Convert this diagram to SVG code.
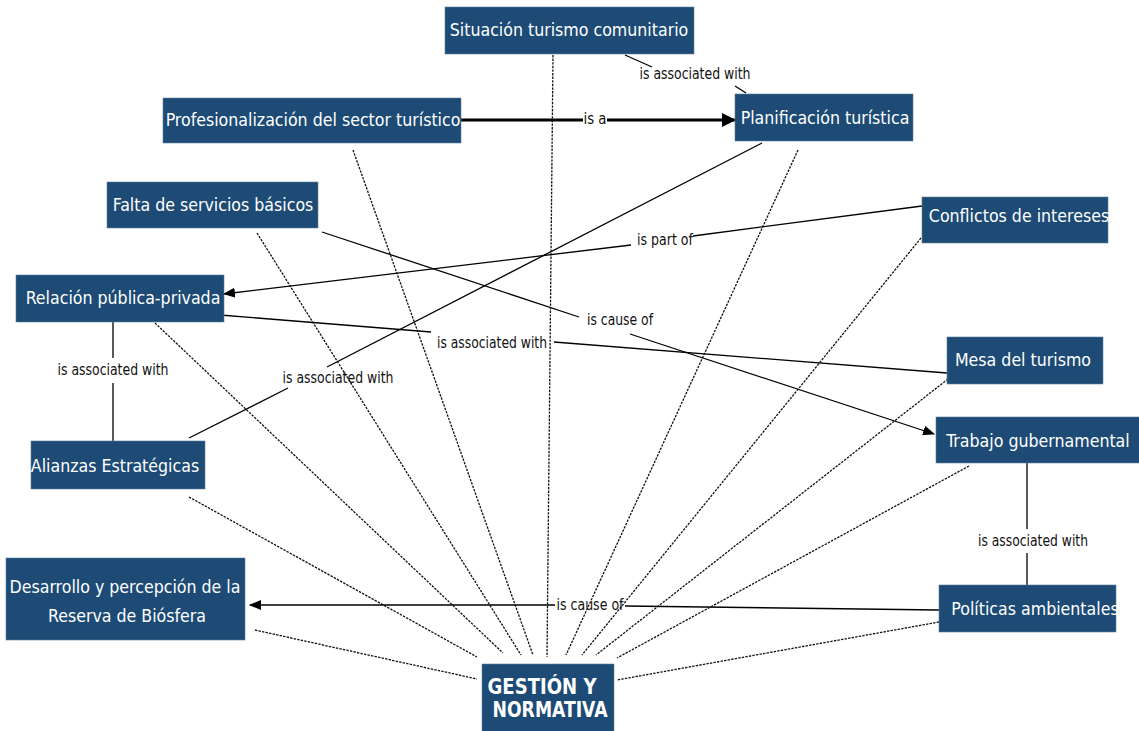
<svg xmlns="http://www.w3.org/2000/svg" width="1139" height="731" viewBox="0 0 1139 731">
<defs>
<style>
.box{fill:#1d4b75;stroke:#5f7f9c;stroke-width:0.6}
.nt{font-family:"DejaVu Sans Condensed","DejaVu Sans",sans-serif;font-size:17.6px;fill:#fff;text-anchor:middle}
.bt{font-family:"DejaVu Sans Condensed","DejaVu Sans",sans-serif;font-size:22px;font-weight:bold;fill:#fff;text-anchor:middle}
.lb{font-family:"DejaVu Sans Condensed","DejaVu Sans",sans-serif;font-size:15px;fill:#111;text-anchor:middle}
.ln{stroke:#000;stroke-width:1.3;fill:none}
.dt{stroke:#111;stroke-width:1.3;stroke-dasharray:2.4 1.2;fill:none}
</style>
<marker id="ah" markerUnits="userSpaceOnUse" markerWidth="12" markerHeight="10" refX="11" refY="5" orient="auto"><path d="M0,0 L12,5 L0,10 Z" fill="#000"/></marker>
<marker id="ahb" markerUnits="userSpaceOnUse" markerWidth="14" markerHeight="14" refX="13" refY="7" orient="auto"><path d="M0,0 L14,7 L0,14 Z" fill="#000"/></marker>
</defs>
<rect width="1139" height="731" fill="#fff"/>
<g id="connectors">
<line class="ln" x1="625" y1="55" x2="652" y2="67"/>
<line class="ln" x1="735" y1="86" x2="746" y2="93"/>
<text class="lb" x="695" y="79" textLength="111" lengthAdjust="spacingAndGlyphs">is associated with</text>
<line x1="461" y1="120" x2="583" y2="120" stroke="#000" stroke-width="3"/>
<line x1="607" y1="120" x2="735" y2="120" stroke="#000" stroke-width="3" marker-end="url(#ahb)"/>
<text class="lb" x="595" y="124" textLength="23" lengthAdjust="spacingAndGlyphs">is a</text>
<line class="ln" x1="762" y1="143" x2="327" y2="367"/>
<line class="ln" x1="288" y1="388" x2="189" y2="438"/>
<text class="lb" x="338" y="383" textLength="111" lengthAdjust="spacingAndGlyphs">is associated with</text>
<line class="ln" x1="922" y1="206" x2="693" y2="236"/>
<line class="ln" x1="631" y1="245" x2="224" y2="294" marker-end="url(#ah)"/>
<text class="lb" x="665" y="245" textLength="56" lengthAdjust="spacingAndGlyphs">is part of</text>
<line class="ln" x1="322" y1="232" x2="579" y2="317"/>
<line class="ln" x1="630" y1="334" x2="934" y2="434" marker-end="url(#ah)"/>
<text class="lb" x="620" y="325" textLength="66" lengthAdjust="spacingAndGlyphs">is cause of</text>
<line class="ln" x1="220" y1="315" x2="431" y2="332"/>
<line class="ln" x1="554" y1="342" x2="947" y2="373"/>
<text class="lb" x="492" y="348" textLength="110" lengthAdjust="spacingAndGlyphs">is associated with</text>
<line class="ln" x1="113" y1="322" x2="113" y2="358"/>
<line class="ln" x1="113" y1="383" x2="113" y2="441"/>
<text class="lb" x="113" y="375" textLength="111" lengthAdjust="spacingAndGlyphs">is associated with</text>
<line class="ln" x1="1027" y1="463" x2="1027" y2="529"/>
<line class="ln" x1="1027" y1="553" x2="1027" y2="585"/>
<text class="lb" x="1033" y="546" textLength="110" lengthAdjust="spacingAndGlyphs">is associated with</text>
<line class="ln" x1="939" y1="610" x2="625" y2="606"/>
<line class="ln" x1="555" y1="605" x2="250" y2="605" marker-end="url(#ah)"/>
<text class="lb" x="590" y="610" textLength="67" lengthAdjust="spacingAndGlyphs">is cause of</text>
<line class="dt" x1="553" y1="55" x2="547" y2="657"/>
<line class="dt" x1="353" y1="150" x2="533" y2="655"/>
<line class="dt" x1="257" y1="233" x2="521" y2="655"/>
<line class="dt" x1="155" y1="323" x2="503" y2="653"/>
<line class="dt" x1="189" y1="497" x2="477" y2="657"/>
<line class="dt" x1="255" y1="630" x2="477" y2="679"/>
<line class="dt" x1="798" y1="150" x2="566" y2="655"/>
<line class="dt" x1="921" y1="238" x2="582" y2="655"/>
<line class="dt" x1="948" y1="379" x2="596" y2="655"/>
<line class="dt" x1="969" y1="466" x2="617" y2="658"/>
<line class="dt" x1="939" y1="622" x2="617" y2="680"/>
</g>
<g id="n-situacion"><rect class="box" x="445" y="7" width="249" height="47"/><text class="nt" x="569" y="36">Situación turismo comunitario</text></g>
<g id="n-profesionalizacion"><rect class="box" x="163" y="98" width="298" height="45"/><text class="nt" x="313" y="126">Profesionalización del sector turístico</text></g>
<g id="n-planificacion"><rect class="box" x="735" y="94" width="178" height="47"/><text class="nt" x="825" y="124">Planificación turística</text></g>
<g id="n-falta"><rect class="box" x="107" y="182" width="211" height="46"/><text class="nt" x="213" y="211">Falta de servicios básicos</text></g>
<g id="n-conflictos"><rect class="box" x="922" y="197" width="186" height="46"/><text class="nt" x="1019" y="222">Conflictos de intereses</text></g>
<g id="n-relacion"><rect class="box" x="16" y="275" width="208" height="47"/><text class="nt" x="123" y="304">Relación pública-privada</text></g>
<g id="n-mesa"><rect class="box" x="947" y="337" width="156" height="47"/><text class="nt" x="1023" y="366">Mesa del turismo</text></g>
<g id="n-alianzas"><rect class="box" x="31" y="441" width="174" height="48"/><text class="nt" x="115" y="472">Alianzas Estratégicas</text></g>
<g id="n-trabajo"><rect class="box" x="936" y="417" width="205" height="46"/><text class="nt" x="1038" y="447">Trabajo gubernamental</text></g>
<g id="n-desarrollo"><rect class="box" x="6" y="558" width="239" height="82"/><text class="nt" x="125" y="593">Desarrollo y percepción de la</text><text class="nt" x="127" y="622">Reserva de Biósfera</text></g>
<g id="n-politicas"><rect class="box" x="939" y="585" width="177" height="47"/><text class="nt" x="1035" y="615">Políticas ambientales</text></g>
<g id="n-gestion"><rect class="box" x="482" y="664" width="132" height="70"/><text class="bt" x="542" y="694" textLength="109" lengthAdjust="spacingAndGlyphs">GESTIÓN Y</text><text class="bt" x="550" y="717" textLength="115" lengthAdjust="spacingAndGlyphs">NORMATIVA</text></g>
</svg>
